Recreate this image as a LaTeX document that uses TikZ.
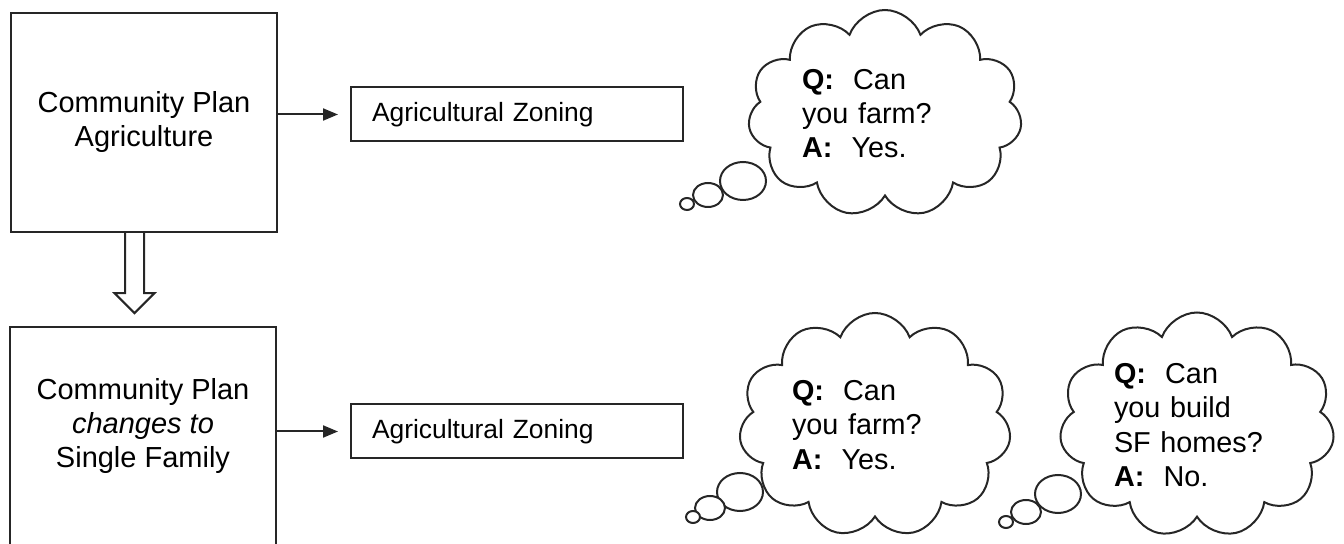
\documentclass[tikz,border=0pt]{standalone}
\usepackage{fontspec}
\setmainfont{Liberation Sans}
\usetikzlibrary{shapes.symbols,arrows.meta}

\begin{document}
\begin{tikzpicture}[x=0.5pt, y=-0.5pt,
  plan/.style={draw=black!85, line width=1.1pt, minimum width=133pt, inner sep=0pt},
  plantext/.style={align=center, font=\fontsize{14.5}{17}\selectfont},
  zone/.style={draw=black!85, line width=1pt, anchor=west, minimum height=27pt, inner xsep=10.5pt, inner ysep=0pt, text width=145pt, align=left, font=\fontsize{13.2}{16}\selectfont},
  feed/.style={-{Triangle[length=7.5pt,width=6pt]}, line width=1pt, draw=black!85, shorten >=6pt},
  thought/.style={cloud, draw=black!85, line width=1pt, cloud puffs=11, cloud puff arc=140, cloud ignores aspect, inner sep=0pt, text width=83pt, align=left, font=\fontsize{14.4}{17.2}\selectfont},
  bubble/.style={draw=black!85, line width=1pt, fill=white}]
\useasboundingbox (0,0) rectangle (1344,544);
\clip (0,0) rectangle (1344,544);
\node[plan, plantext, minimum height=109.5pt] (plan1) at (144,122.5) {Community Plan\\Agriculture};
\node[plan, minimum height=116.5pt] (plan2) at (143,443.5) {};
\node[plantext] (plan2txt) at (143,426) {Community Plan\\\textit{changes to}\\Single Family};
\node[zone] (zone1) at (350,114.5) {Agricultural Zoning};
\node[zone] (zone2) at (350,431.5) {Agricultural Zoning};
\node[thought, minimum width=137pt, minimum height=103.5pt] (ask1) at (885,113.5) {\textbf{Q:}\ \ Can\\you farm?\\\textbf{A:}\ \ Yes.};
\node[thought, minimum width=136pt, minimum height=112pt] (ask2) at (875,425) {\textbf{Q:}\ \ Can\\you farm?\\\textbf{A:}\ \ Yes.};
\node[thought, minimum width=137.5pt, minimum height=112.5pt] (ask3) at (1197,425) {\textbf{Q:}\ \ Can\\you build\\SF homes?\\\textbf{A:}\ \ No.};
\draw[feed] (plan1.east |- zone1.west) -- (zone1.west);
\draw[feed] (plan2.east |- zone2.west) -- (zone2.west);
% hollow arrow down to the changed plan
\draw[line width=1pt, draw=black!85, line join=miter] (plan1.south) -- ++(0,60) -- ++(10.5,0) -- ++(-20,20) -- ++(-20,-20) -- ++(10.5,0) -- ++(0,-60);
% thought bubbles
\draw[bubble] (743,181) ellipse [x radius=11.5pt, y radius=9.5pt];
\draw[bubble] (708,195) ellipse [x radius=7.5pt, y radius=6pt];
\draw[bubble] (687,204) ellipse [x radius=3.5pt, y radius=3pt];
\draw[bubble] (740,492) ellipse [x radius=11.5pt, y radius=9.5pt];
\draw[bubble] (710,508) ellipse [x radius=7.5pt, y radius=6pt];
\draw[bubble] (693,517) ellipse [x radius=3.5pt, y radius=3pt];
\draw[bubble] (1058,494) ellipse [x radius=11.5pt, y radius=9.5pt];
\draw[bubble] (1026,512) ellipse [x radius=7.5pt, y radius=6pt];
\draw[bubble] (1006,522) ellipse [x radius=3.5pt, y radius=3pt];
\end{tikzpicture}
\end{document}
